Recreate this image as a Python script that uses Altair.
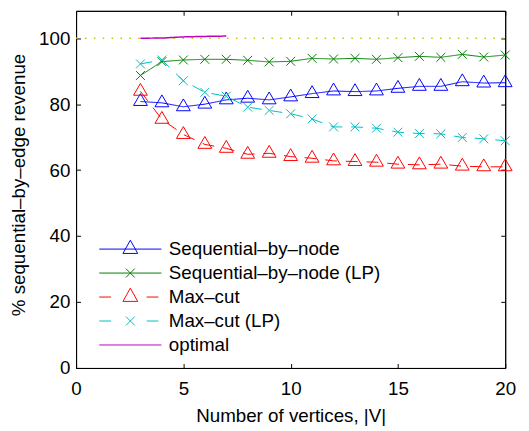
import altair as alt
import pandas as pd

# ---------------- data ----------------
vertices = list(range(3, 21))
seq_by_node = [80.8, 80.4, 79.2, 80.0, 81.3, 81.8, 81.3, 82.2, 83.2, 84.0, 83.8, 84.0, 84.8, 85.4, 85.4, 86.8, 86.4, 86.5]
seq_by_node_lp = [88.7, 92.9, 93.4, 93.6, 93.6, 93.3, 92.8, 93.0, 93.9, 93.7, 93.9, 93.6, 94.1, 94.5, 94.2, 95.1, 94.3, 94.9]
max_cut = [83.9, 75.4, 70.8, 67.8, 66.6, 64.8, 65.1, 64.1, 63.6, 62.8, 62.6, 62.4, 61.8, 61.6, 61.8, 61.2, 61.0, 61.0]
max_cut_lp = [92.2, 93.4, 87.1, 83.6, 82.4, 79.1, 78.1, 77.1, 75.5, 73.1, 73.1, 72.7, 71.5, 71.1, 71.0, 69.9, 69.5, 68.9]
optimal_vertices = [3, 4, 5, 6, 7]
optimal = [100.0, 100.05, 100.4, 100.55, 100.65]
reference_level = [100]
reference_span = [0, 20]

series_names = ["Sequential–by–node", "Sequential–by–node (LP)", "Max–cut", "Max–cut (LP)", "optimal"]
series_colors = ["#0000ff", "#008000", "#ff0000", "#00bfbf", "#bf00bf"]
x_ticks = [0, 5, 10, 15, 20]
y_ticks = [0, 20, 40, 60, 80, 100]

# ---------------- tables ----------------
rows = []
for name, vals in zip(series_names[:4], [seq_by_node, seq_by_node_lp, max_cut, max_cut_lp]):
    for n, v in zip(vertices, vals):
        rows.append({"n": n, "pct": v, "series": name})
for n, v in zip(optimal_vertices, optimal):
    rows.append({"n": n, "pct": v, "series": series_names[4]})
df = pd.DataFrame(rows)
ref_df = pd.DataFrame({"n": [reference_span[0]], "n2": [reference_span[1]], "pct": reference_level})
legend_df = pd.DataFrame({"series": series_names})

FONT = "Liberation Sans"
FS = 19

# marker shapes (custom symbol paths)
TRI = "M-1,0.571L0,-1.143L1,0.571Z"
XMARK = "M-1,-1L1,1M-1,1L1,-1"
leg_tri = "M-0.714,0.42L0,-0.857L0.714,0.42Z"
leg_x = "M-0.43,-0.43L0.43,0.43M-0.43,0.43L0.43,-0.43"
leg_solid = "M-3,0H3"
leg_dash = "M-3,0H-1.857M1.571,0H2.714"
legend_paths = [leg_solid + leg_tri, leg_solid + leg_x, leg_dash + leg_tri, leg_dash + leg_x, leg_solid]

# per-series style: (dash, marker, marker size, line width)
styles = [
    ([1, 0], TRI, 196, 1),
    ([1, 0], XMARK, 81, 1),
    ([12, 9], TRI, 196, 1),
    ([12, 9], XMARK, 81, 1),
    ([1, 0], None, 0, 1.5),
]

xs = alt.Scale(domain=[0, 20], nice=False, zero=False)
ys = alt.Scale(domain=[0, 108.3], nice=False, zero=False)
tick_in = {"expr": "-4.5"}

x_axis = alt.Axis(values=x_ticks, title="Number of vertices, |V|", grid=False, tickSize=tick_in,
                  labelPadding=16, labelFlush=False, titleY=54, titleBaseline="alphabetic", format="d")
y_axis = alt.Axis(values=y_ticks, title="% sequential–by–edge revenue", grid=False, tickSize=tick_in,
                  labelPadding=10.8, labelFlush=False, titleX=-52, titleY=176, titleBaseline="alphabetic",
                  titleAngle=-90, format="d")
x_axis_top = alt.Axis(orient="top", values=x_ticks, title=None, labels=False, grid=False, tickSize=tick_in)
y_axis_right = alt.Axis(orient="right", values=y_ticks, title=None, labels=False, grid=False, tickSize=tick_in)

ref_rule = alt.Chart(ref_df).mark_rule(color="#c4c400", strokeWidth=1.6, strokeDash=[1.5, 7.5]).encode(
    x=alt.X("n:Q", scale=xs, axis=x_axis),
    x2="n2:Q",
    y=alt.Y("pct:Q", scale=ys, axis=y_axis),
)
frame = alt.Chart(ref_df).mark_rule(opacity=0).encode(
    x=alt.X("n:Q", scale=xs, axis=x_axis_top),
    x2="n2:Q",
    y=alt.Y("pct:Q", scale=ys, axis=y_axis_right),
)

X = alt.X("n:Q", scale=xs, axis=None)
Y = alt.Y("pct:Q", scale=ys, axis=None)

layers = [ref_rule, frame]
for name, color, (dash, marker, msize, lw) in zip(series_names, series_colors, styles):
    base = alt.Chart(df).transform_filter(alt.datum.series == name)
    layers.append(base.mark_line(color=color, strokeDash=dash, strokeWidth=lw).encode(x=X, y=Y))
    if marker is not None:
        layers.append(base.mark_point(shape=marker, size=msize, filled=False, color=color,
                                      strokeWidth=1, opacity=1).encode(x=X, y=Y))

leg = alt.Legend(title=None, orient="none", legendX=44, legendY=230.5, symbolSize=441,
                 symbolStrokeWidth=1, symbolOpacity=1, labelOffset=28, rowPadding=3.3, padding=0,
                 labelLimit=400, labelFontSize=FS, labelFont=FONT, labelColor="black")
legend_layer = alt.Chart(legend_df).mark_point(filled=False, size=441, strokeWidth=1, opacity=0).encode(
    color=alt.Color("series:N", scale=alt.Scale(domain=series_names, range=series_colors), legend=leg),
    shape=alt.Shape("series:N", scale=alt.Scale(domain=series_names, range=legend_paths), legend=leg),
)
layers.append(legend_layer)

chart = alt.layer(*layers).resolve_axis(
    x="independent", y="independent"
).properties(
    width=435, height=362,
    autosize=alt.AutoSizeParams(type="none"),
    padding={"left": 69, "top": 0, "right": 16, "bottom": 60},
).configure_view(stroke="black", strokeWidth=1).configure_axis(
    labelFont=FONT, titleFont=FONT, labelFontSize=FS, titleFontSize=FS, labelColor="black",
    titleColor="black", titleFontWeight="normal", domainColor="black", tickColor="black",
    domainWidth=1, tickWidth=1,
)

chart.save("out.html", embed_options={"renderer": "svg", "actions": False})
